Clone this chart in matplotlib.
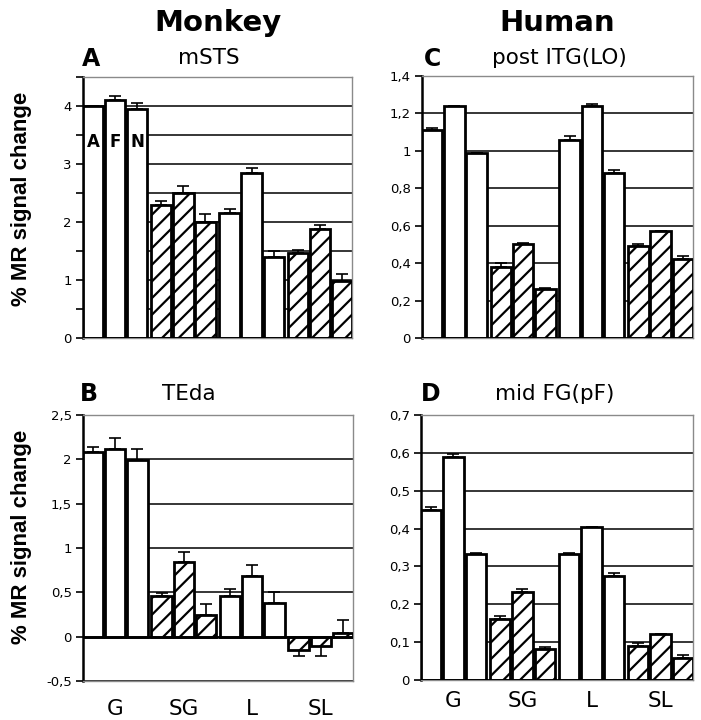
import numpy as np
import matplotlib
matplotlib.use("Agg")
import matplotlib.pyplot as plt
from matplotlib.ticker import MultipleLocator, FuncFormatter

plt.rcParams['font.family'] = ['DejaVu Sans']
plt.rcParams['hatch.linewidth'] = 1.6

groups = ["G", "SG", "L", "SL"]
conds = ["A", "F", "N"]

# values per panel, order: G(A,F,N), SG(A,F,N), L(A,F,N), SL(A,F,N)
msts_vals = [4.0, 4.1, 3.95, 2.3, 2.5, 2.0, 2.15, 2.85, 1.4, 1.47, 1.88, 0.98]
msts_err = [0.0, 0.08, 0.1, 0.07, 0.12, 0.13, 0.07, 0.08, 0.1, 0.04, 0.06, 0.12]

teda_vals = [2.08, 2.12, 1.99, 0.46, 0.84, 0.24, 0.46, 0.68, 0.38, -0.15, -0.10, 0.04]
teda_err = [0.06, 0.12, 0.13, 0.03, 0.12, 0.13, 0.08, 0.13, 0.12, 0.07, 0.12, 0.15]

itg_vals = [1.11, 1.24, 0.99, 0.38, 0.50, 0.26, 1.06, 1.24, 0.88, 0.49, 0.57, 0.42]
itg_err = [0.01, 0.0, 0.0, 0.02, 0.005, 0.005, 0.02, 0.01, 0.02, 0.01, 0.0, 0.02]

fg_vals = [0.45, 0.59, 0.333, 0.16, 0.233, 0.083, 0.333, 0.403, 0.274, 0.09, 0.122, 0.058]
fg_err = [0.007, 0.006, 0.003, 0.01, 0.008, 0.003, 0.003, 0.0, 0.008, 0.008, 0.0, 0.008]

W, H = 701, 720


def fx(px):
    return px / W


def fy(py):
    return 1 - py / H


def comma(v, pos):
    s = ("%.1f" % v).rstrip("0").rstrip(".")
    if s == "-0":
        s = "0"
    return s.replace(".", ",")


def panel(rect, vals, errs, ylim, major, minor, show_cats, cat_pad):
    ax = fig.add_axes(rect)
    vals = np.array(vals)
    errs = np.array(errs)
    x = np.array([i + (i // 3) * 0.1 for i in range(12)])
    hatched = [(i // 3) % 2 == 1 for i in range(12)]
    lower = np.where(vals < 0, errs, 0)
    upper = np.where(vals < 0, 0, errs)
    ax.errorbar(x, vals, yerr=[lower, upper], fmt="none", ecolor="black",
                elinewidth=1.2, capsize=4, capthick=1.2, zorder=2)
    for xi, v, h in zip(x, vals, hatched):
        ax.bar(xi, v, width=0.92, color="white", edgecolor="black",
               linewidth=2.0, hatch="//" if h else None, zorder=3)
    ax.set_xlim(-0.46, 11.76)
    ax.set_ylim(*ylim)
    ax.yaxis.set_major_locator(MultipleLocator(major))
    ax.yaxis.set_minor_locator(MultipleLocator(minor))
    ax.yaxis.set_major_formatter(FuncFormatter(comma))
    ax.grid(axis="y", which="both", color="black", linewidth=1.1, zorder=0)
    ax.set_axisbelow(True)
    ax.tick_params(axis="y", which="both", direction="out", length=5,
                   width=1.2, labelsize=9.5, pad=3)
    for s in ["top", "right", "bottom"]:
        ax.spines[s].set_color("#8a8a8a")
        ax.spines[s].set_linewidth(1.0)
    ax.spines["left"].set_linewidth(1.8)
    ax.axhline(0, color="black", linewidth=1.8, zorder=4)
    if show_cats:
        ax.set_xticks([x[3 * g + 1] for g in range(4)])
        ax.set_xticklabels(groups, fontsize=15.5)
        ax.tick_params(axis="x", length=0, pad=cat_pad)
    else:
        ax.set_xticks([])
    return ax, x


fig = plt.figure(figsize=(7.01, 7.2), dpi=100)

axA, xA = panel([fx(83), fy(338), fx(352 - 83), (338 - 77) / H],
                msts_vals, msts_err, (0, 4.5), 1, 0.5, False, 0)
for xi, c in zip(xA[:3], conds):
    axA.text(xi, 3.38, c, ha="center", va="center", fontsize=12,
             fontweight="bold", zorder=5)

axC, _ = panel([fx(422), fy(338), fx(693 - 422), (338 - 76) / H],
               itg_vals, itg_err, (0, 1.4), 0.2, 0.2, False, 0)

axB, _ = panel([fx(83), fy(681), fx(353 - 83), (681 - 415) / H],
               teda_vals, teda_err, (-0.5, 2.5), 0.5, 0.5, True, 13)

axD, _ = panel([fx(421), fy(680), fx(693 - 421), (680 - 415) / H],
               fg_vals, fg_err, (0, 0.7), 0.1, 0.1, True, 8)

# headings
fig.text(fx(218), fy(31), "Monkey", ha="center", va="baseline",
         fontsize=21, fontweight="bold")
fig.text(fx(557), fy(31), "Human", ha="center", va="baseline",
         fontsize=21, fontweight="bold")

# panel letters and region names
fig.text(fx(82), fy(66), "A", ha="left", va="baseline", fontsize=17, fontweight="bold")
fig.text(fx(209), fy(64), "mSTS", ha="center", va="baseline", fontsize=15.5)
fig.text(fx(424), fy(66), "C", ha="left", va="baseline", fontsize=17, fontweight="bold")
fig.text(fx(559), fy(64), "post ITG(LO)", ha="center", va="baseline", fontsize=15.5)
fig.text(fx(80), fy(401), "B", ha="left", va="baseline", fontsize=17, fontweight="bold")
fig.text(fx(189), fy(400), "TEda", ha="center", va="baseline", fontsize=15.5)
fig.text(fx(421), fy(401), "D", ha="left", va="baseline", fontsize=17, fontweight="bold")
fig.text(fx(555), fy(400), "mid FG(pF)", ha="center", va="baseline", fontsize=15.5)

# y labels
for yc in [199, 537]:
    fig.text(fx(22), fy(yc), "% MR signal change", rotation=90, ha="center",
             va="center", fontsize=16, fontweight="bold",
             family=["Liberation Sans", "DejaVu Sans"])

fig.savefig("out.png", dpi=100, facecolor="white")
